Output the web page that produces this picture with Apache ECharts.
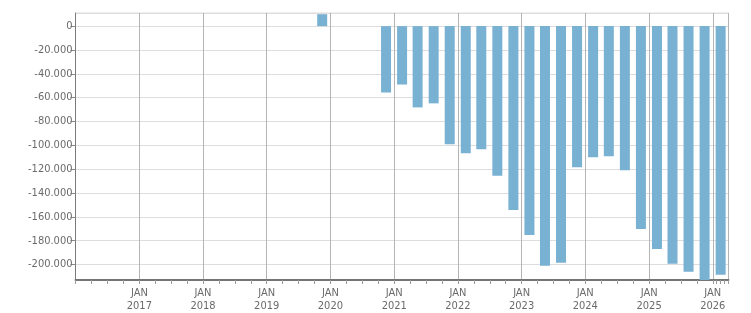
<!DOCTYPE html>
<html>
<head>
<meta charset="utf-8">
<script src="https://cdn.jsdelivr.net/npm/echarts@6/dist/echarts.min.js"></script>
<style>
    html, body { margin: 0; padding: 0; background: #fff; }
    #chart { width: 751px; height: 313px; }
</style>
</head>
<body>
<div id="chart"></div>
<script>
// quarter mid dates and quarterly values
var quarterDates = [
    '2019-11-15',
    '2020-11-15', '2021-02-15', '2021-05-15', '2021-08-15',
    '2021-11-15', '2022-02-15', '2022-05-15', '2022-08-15',
    '2022-11-15', '2023-02-15', '2023-05-15', '2023-08-15',
    '2023-11-15', '2024-02-15', '2024-05-15', '2024-08-15',
    '2024-11-15', '2025-02-15', '2025-05-15', '2025-08-15',
    '2025-11-15', '2026-02-15'
];
var quarterValues = [
    10000,
    -55700, -49000, -68200, -64800,
    -99200, -106700, -103400, -125600,
    -154300, -175200, -201100, -198600,
    -118400, -110000, -109200, -120900,
    -170200, -186900, -199400, -206100,
    -215000, -208700
];
var axisStart = '2016-01-01';
var axisEnd = '2026-04-01';
var monthNames = ['JAN', 'FEB', 'MAR', 'APR', 'MAY', 'JUN', 'JUL', 'AUG', 'SEP', 'OCT', 'NOV', 'DEC'];

var labelFont = 'DejaVu Sans Condensed, Liberation Sans, sans-serif';
var startYear = parseInt(axisStart.slice(0, 4), 10);

function formatThousands(v) {
    var s = Math.abs(v).toString().replace(/\B(?=(\d{3})+(?!\d))/g, '.');
    return (v < 0 ? '-' : '') + s;
}

var seriesData = quarterDates.map(function (d, i) {
    return [d, quarterValues[i]];
});

// bars drawn as a custom series so the time axis is not padded for bar overflow
function renderBar(params, api) {
    var top = api.coord([api.value(0), api.value(1)]);
    var base = api.coord([api.value(0), 0]);
    var w = 10;
    var rect = echarts.graphic.clipRectByRect({
        x: top[0] - w / 2,
        y: Math.min(top[1], base[1]),
        width: w,
        height: Math.abs(base[1] - top[1])
    }, params.coordSys);
    return rect && {
        type: 'rect',
        shape: rect,
        style: api.style()
    };
}

var chart = echarts.init(document.getElementById('chart'));
chart.setOption({
    animation: false,
    grid: {
        left: 75.5,
        right: 22.5,
        top: 13,
        bottom: 32.5,
        show: true,
        borderColor: '#dddddd',
        borderWidth: 1
    },
    xAxis: {
        type: 'time',
        min: axisStart,
        max: axisEnd,
        splitNumber: 10,
        axisLine: {
            onZero: false,
            lineStyle: { color: '#747474', width: 2 }
        },
        axisTick: {
            show: true,
            length: 4,
            lineStyle: { color: '#9a9a9a' }
        },
        minorTick: {
            show: true,
            splitNumber: 4,
            length: 4,
            lineStyle: { color: '#9a9a9a' }
        },
        axisLabel: {
            color: '#6a6a6a',
            fontFamily: labelFont,
            fontSize: 11,
            lineHeight: 13,
            margin: 7,
            showMinLabel: false,
            showMaxLabel: false,
            formatter: function (value) {
                var d = new Date(value);
                // no label at the left edge of the axis
                if (d.getFullYear() === startYear) {
                    return '';
                }
                return monthNames[d.getMonth()] + '\n' + d.getFullYear();
            }
        },
        splitLine: {
            show: true,
            lineStyle: { color: '#b4b4b4', width: 1 }
        }
    },
    yAxis: {
        type: 'value',
        min: -213000,
        max: 11000,
        splitNumber: 10,
        axisLine: {
            show: true,
            lineStyle: { color: '#7a7a7a', width: 1 }
        },
        axisTick: {
            show: true,
            length: 5,
            lineStyle: { color: '#8a8a8a' }
        },
        axisLabel: {
            color: '#6a6a6a',
            fontFamily: labelFont,
            fontSize: 11,
            margin: 3,
            showMinLabel: false,
            showMaxLabel: false,
            formatter: formatThousands
        },
        splitLine: {
            show: true,
            lineStyle: { color: '#dddddd', width: 1 }
        }
    },
    series: [{
        type: 'custom',
        renderItem: renderBar,
        encode: { x: 0, y: 1 },
        itemStyle: { color: '#79b1d3' },
        data: seriesData
    }]
});
</script>
</body>
</html>
